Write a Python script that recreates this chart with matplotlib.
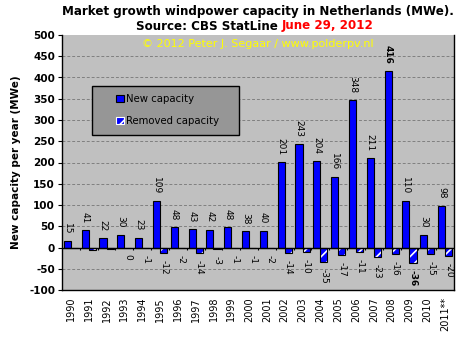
import matplotlib
matplotlib.use("Agg")
import matplotlib.pyplot as plt
import numpy as np
from matplotlib.patches import Patch, Rectangle

years = ["1990", "1991", "1992", "1993", "1994", "1995", "1996", "1997", "1998", "1999",
         "2000", "2001", "2002", "2003", "2004", "2005", "2006", "2007", "2008", "2009",
         "2010", "2011**"]
new_capacity = [15, 41, 22, 30, 23, 109, 48, 43, 42, 48, 38, 40, 201, 243, 204, 166,
                348, 211, 416, 110, 30, 98]
removed_capacity = [0, -7, -4, 0, -1, -12, -2, -14, -3, -1, -1, -2, -14, -10, -35, -17,
                    -11, -23, -16, -36, -15, -20]
removed_labeled = [False, False, False, True] + [True] * 18
yticks = [-100, -50, 0, 50, 100, 150, 200, 250, 300, 350, 400, 450, 500]

plt.rcParams["hatch.linewidth"] = 1.2

fig = plt.figure(figsize=(4.71, 3.41), dpi=100)
fig.patch.set_facecolor("white")
ax = fig.add_axes([62 / 471, 1 - 290 / 341, 392 / 471, 255 / 341])
ax.set_facecolor("#C0C0C0")

x = np.arange(len(years))
w = 0.4
ax.bar(x - 0.2, new_capacity, width=w, color="#0000FF", edgecolor="black", linewidth=0.8, zorder=3)
# hatched removed bars: blue with white diagonal stripes, black outline
ax.bar(x + 0.2, removed_capacity, width=w, color="#0000FF", edgecolor="white", hatch="///",
       linewidth=0, zorder=3)
ax.bar(x + 0.2, removed_capacity, width=w, color="none", edgecolor="black", linewidth=0.8, zorder=4)

for i, v in enumerate(new_capacity):
    bold = v == max(new_capacity)
    ax.annotate(str(v), (x[i] - 0.2, v), xytext=(0, 5), textcoords="offset points",
                rotation=-90, ha="center", va="bottom", fontsize=6.5,
                fontweight="bold" if bold else "normal", color="black", zorder=5)
for i, v in enumerate(removed_capacity):
    if not removed_labeled[i]:
        continue
    bold = v == min(removed_capacity)
    ax.annotate(str(v), (x[i] + 0.2, v), xytext=(0, -5), textcoords="offset points",
                rotation=-90, ha="center", va="top", fontsize=6.5,
                fontweight="bold" if bold else "normal", color="black", zorder=5)

ax.set_xlim(-0.5, len(years) - 0.5)
ax.set_ylim(-100, 500)
ax.set_yticks(yticks)
ax.set_yticklabels([str(t) for t in yticks], fontsize=7.5, fontweight="bold")
ax.hlines(yticks[1:-1], -0.5, len(years) - 0.5, linestyles=(0, (3, 2)), colors="#808080",
          linewidth=0.7, zorder=1)

# zero line with category ticks
ax.axhline(0, color="black", linewidth=1.0, zorder=4)
ax.vlines(x[:-1] + 0.5, -6, 0, color="black", linewidth=0.8, zorder=4)

ax.set_xticks(x)
ax.set_xticklabels(years, rotation=90, fontsize=7, va="top", ha="center")
ax.tick_params(axis="x", length=0, pad=5)
ax.tick_params(axis="y", length=3, width=0.8, pad=2)

for s in ["left", "bottom", "right"]:
    ax.spines[s].set_color("black")
    ax.spines[s].set_linewidth(1.0)
ax.spines["top"].set_visible(False)

ax.set_ylabel("New capacity per year (MWe)", fontsize=7.5, fontweight="bold", labelpad=6)

fig.text(258 / 471, 1 - 11 / 341, "Market growth windpower capacity in Netherlands (MWe).",
         ha="center", va="center", fontsize=8.6, fontweight="bold")
fig.text(282 / 471, 1 - 26 / 341, "Source: CBS StatLine ", ha="right", va="center",
         fontsize=8.6, fontweight="bold", color="black")
fig.text(282 / 471, 1 - 26 / 341, "June 29, 2012", ha="left", va="center",
         fontsize=8.6, fontweight="bold", color="red")

ax.text(0.5, 0.965, "\u00a9 2012 Peter J. Segaar / www.polderpv.nl", transform=ax.transAxes,
        ha="center", va="center", fontsize=8, color="#FFFF00", zorder=6)

# legend box
ax.add_patch(Rectangle((30 / 392, 1 - 100 / 255), 147 / 392, 49 / 255, transform=ax.transAxes,
                       facecolor="#969696", edgecolor="black", linewidth=1.0, zorder=6))
handles = [Patch(facecolor="#0000FF", edgecolor="black", linewidth=0.8),
           Patch(facecolor="#0000FF", edgecolor="white", hatch="///", linewidth=0.8)]
leg = ax.legend(handles, ["New capacity", "Removed capacity"],
                loc="upper left", bbox_to_anchor=(54 / 392, 1 - 59 / 255), fontsize=7.3,
                frameon=False, handlelength=0.75, handleheight=0.75, handletextpad=0.2,
                labelspacing=1.2, borderpad=0, borderaxespad=0)
leg.set_zorder(7)

fig.savefig("out.png", dpi=100)
